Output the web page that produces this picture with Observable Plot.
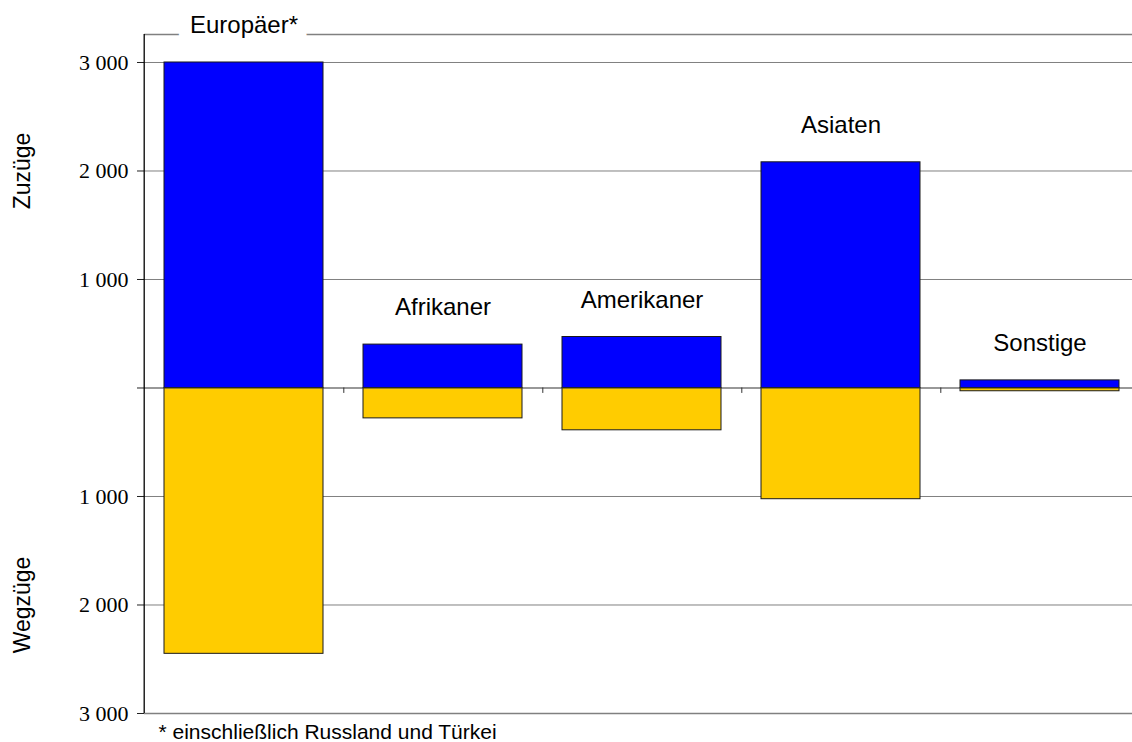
<!DOCTYPE html>
<html>
<head>
<meta charset="utf-8">
<script src="https://cdn.jsdelivr.net/npm/d3@7"></script>
<script src="https://cdn.jsdelivr.net/npm/@observablehq/plot@0.6"></script>
<style>
  html, body { margin: 0; padding: 0; background: #fff; }
</style>
</head>
<body>
<div id="chart"></div>
<script>
const categories = ["Europäer*", "Afrikaner", "Amerikaner", "Asiaten", "Sonstige"];
const zuzuege = [3000, 400, 470, 2080, 70];
const wegzuege = [2450, 280, 390, 1025, 30];
const yTicks = [-3000, -2000, -1000, 0, 1000, 2000, 3000];
const gridTicks = [-2000, -1000, 1000, 2000, 3000];
const axisLabels = [{text: "Zuzüge", y: 2000}, {text: "Wegzüge", y: -2000}];
const footnote = "* einschließlich Russland und Türkei";

const inData = categories.map((c, i) => ({c, v: zuzuege[i]}));
const outData = categories.map((c, i) => ({c, v: -wegzuege[i]}));
const fmt = d => d === 0 ? "" : d3.format(",")(Math.abs(d)).replace(/,/g, " ");
const yTop = 3258;
const xRange = [143, 1141];
const step = (xRange[1] - xRange[0]) / categories.length;
const sans = "'Liberation Sans', Arial, sans-serif";
const serif = "'Liberation Serif', 'Times New Roman', serif";

const chart = Plot.plot({
  width: 1132,
  height: 742,
  marginTop: 34,
  marginBottom: 29,
  marginLeft: 144,
  marginRight: 0,
  style: {fontFamily: serif, fontSize: "22px", color: "#000", background: "#fff"},
  x: {domain: categories, range: xRange, paddingInner: 0.2, paddingOuter: 0.1, axis: null},
  y: {domain: [-3000, yTop], axis: null},
  marks: [
    Plot.ruleY(gridTicks, {stroke: "#808080", strokeWidth: 1}),
    Plot.ruleY([yTop], {stroke: "#808080", strokeWidth: 1.5}),
    Plot.ruleY([-3000], {stroke: "#808080", strokeWidth: 1.5}),
    Plot.barY(inData, {x: "c", y: "v", fill: "#0000FF", stroke: "#1a1a1a", strokeWidth: 1}),
    Plot.barY(outData, {x: "c", y: "v", fill: "#FFCC00", stroke: "#1a1a1a", strokeWidth: 1}),
    Plot.ruleY([0], {stroke: "#333", strokeWidth: 1.2}),
    Plot.ruleX(categories.slice(0, 4), {x: d => d, dx: step / 2, y1: 0, y2: -50, stroke: "#333", strokeWidth: 1}),
    Plot.axisY({ticks: yTicks, tickFormat: fmt, tickSize: 7, tickPadding: 9, label: null, stroke: "#222",
      fontFamily: serif, fontSize: 22}),
    Plot.ruleX([0], {x: () => categories[0], dx: -(step / 2), y1: -3000, y2: yTop, stroke: "#000", strokeWidth: 1.3}),
    Plot.text([inData[0]], {x: "c", y: "v", text: "c", dy: -37, fontFamily: sans, fontSize: 24, fill: "#000", stroke: "#fff", strokeWidth: 26, strokeLinejoin: "miter"}),
    Plot.text(inData.slice(1), {x: "c", y: "v", text: "c", dy: -37, fontFamily: sans, fontSize: 24, fill: "#000"}),
    Plot.text(axisLabels, {y: "y", text: "text", frameAnchor: "left", textAnchor: "middle", lineAnchor: "middle", dx: -122, rotate: -90, fontFamily: sans, fontSize: 23, fill: "#000"}),
    Plot.text([footnote], {frameAnchor: "bottom-left", dx: 14, dy: 19, textAnchor: "start", lineAnchor: "middle", fontFamily: sans, fontSize: 21, fill: "#000"})
  ]
});
document.getElementById("chart").appendChild(chart);
</script>
</body>
</html>
